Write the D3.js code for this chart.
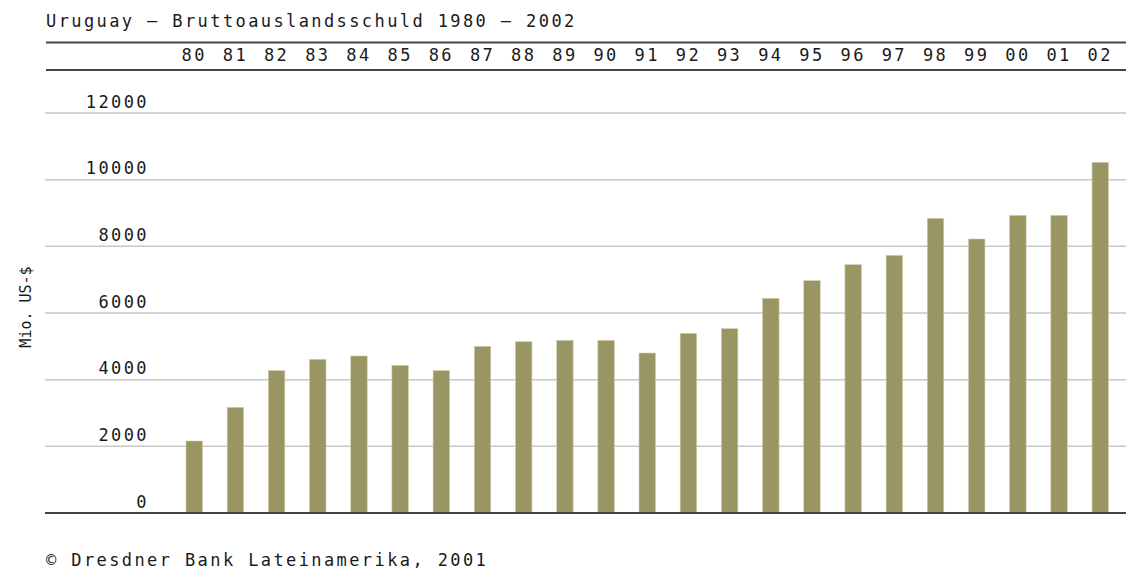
<!DOCTYPE html>
<html>
<head>
<meta charset="utf-8">
<script src="https://cdn.jsdelivr.net/npm/d3@7"></script>
<style>
  body { margin: 0; background: #fff; }
  text { font-family: "DejaVu Sans Mono", monospace; fill: #1a1a1a; }
  .lbl { font-size: 17px; letter-spacing: 2.4px; }
</style>
</head>
<body>
<div id="chart"></div>
<script>
// years (x categories) and gross external debt, Mio. US-$
var years = ["80", "81", "82", "83", "84", "85", "86", "87", "88", "89", "90",
  "91", "92", "93", "94", "95", "96", "97", "98", "99", "00", "01", "02"];
var debt = [2160, 3170, 4270, 4610, 4710, 4430, 4270, 5000, 5140, 5180, 5180,
  4800, 5390, 5530, 6440, 6970, 7450, 7730, 8840, 8220, 8930, 8930, 10520];
var yTicks = [0, 2000, 4000, 6000, 8000, 10000, 12000];

var titleText = "Uruguay – Bruttoauslandsschuld 1980 – 2002";
var yLabel = "Mio. US-$";
var sourceText = "© Dresdner Bank Lateinamerika, 2001";

var svgWidth = 1126;
var svgHeight = 571;

var svg = d3.select("#chart")
  .append("svg")
  .attr("width", svgWidth)
  .attr("height", svgHeight);

var data = years.map(function(y, i) { return { year: y, value: debt[i] }; });

// scales
var xScale = d3.scaleBand()
  .domain(years)
  .range([186, 1108.5])
  .paddingInner(0.6)
  .paddingOuter(0);

var yScale = d3.scaleLinear()
  .domain([0, 12000])
  .range([513, 113]);

// title
svg.append("text")
  .attr("class", "lbl")
  .attr("x", 46)
  .attr("y", 27)
  .text(titleText);

// header rules
[42.5, 70].forEach(function(yy) {
  svg.append("line")
    .attr("x1", 46).attr("x2", svgWidth)
    .attr("y1", yy).attr("y2", yy)
    .attr("stroke", "#444")
    .attr("stroke-width", 2);
});

// year labels on top
var topAxis = svg.append("g")
  .attr("transform", "translate(0, 61)")
  .call(d3.axisTop(xScale).tickSize(0).tickPadding(0));
topAxis.select(".domain").remove();
topAxis.selectAll("text")
  .attr("class", "lbl")
  .attr("fill", "#1a1a1a");

// grid lines
svg.append("g")
  .selectAll("line")
  .data(yTicks.filter(function(t) { return t > 0; }))
  .enter()
  .append("line")
  .attr("x1", 45).attr("x2", svgWidth)
  .attr("y1", function(d) { return yScale(d); })
  .attr("y2", function(d) { return yScale(d); })
  .attr("stroke", "#c8c8c8")
  .attr("stroke-width", 1.5);

// y tick labels sit above their grid lines
var leftAxis = svg.append("g")
  .attr("transform", "translate(149, 0)")
  .call(d3.axisLeft(yScale).tickValues(yTicks).tickFormat(d3.format("d"))
    .tickSize(0).tickPadding(0));
leftAxis.select(".domain").remove();
leftAxis.selectAll("text")
  .attr("class", "lbl")
  .attr("dy", "-6px")
  .attr("fill", "#1a1a1a");

// bars
svg.append("g")
  .selectAll("rect")
  .data(data)
  .enter()
  .append("rect")
  .attr("x", function(d) { return xScale(d.year); })
  .attr("y", function(d) { return yScale(d.value); })
  .attr("width", xScale.bandwidth())
  .attr("height", function(d) { return yScale(0) - yScale(d.value); })
  .attr("fill", "#999664")
  .attr("stroke", "#cfcdae")
  .attr("stroke-width", 0.6);

// baseline
svg.append("line")
  .attr("x1", 45).attr("x2", svgWidth)
  .attr("y1", yScale(0)).attr("y2", yScale(0))
  .attr("stroke", "#444")
  .attr("stroke-width", 2);

// y axis title
svg.append("text")
  .attr("transform", "translate(31, 307) rotate(-90)")
  .attr("text-anchor", "middle")
  .style("font-size", "15px")
  .text(yLabel);

// source
svg.append("text")
  .attr("class", "lbl")
  .attr("x", 46)
  .attr("y", 566)
  .text(sourceText);
</script>
</body>
</html>
